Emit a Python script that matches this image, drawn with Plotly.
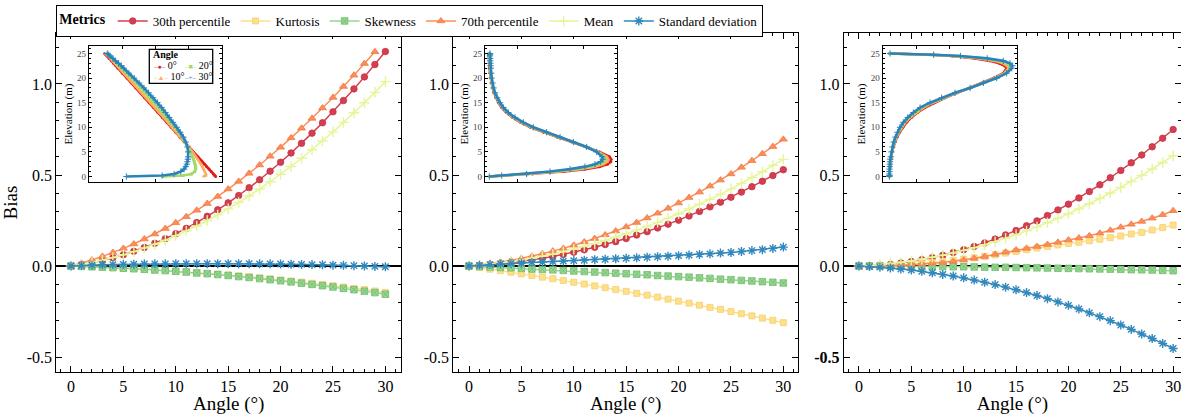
import plotly.graph_objects as go

W, H = 1181, 415
FONT = "Liberation Serif, Times New Roman, serif"

# ---------------- data: main panels ----------------
angle = list(range(31))
x_ticks = [0, 5, 10, 15, 20, 25, 30]
y_ticks = [-0.5, 0.0, 0.5, 1.0]
y_ticktext = ["-0.5", "0.0", "0.5", "1.0"]
y_ticktext_p3 = ["<b>-0.5</b>", "0.0", "0.5", "1.0"]

metric_names = ["30th percentile", "Kurtosis", "Skewness", "70th percentile", "Mean", "Standard deviation"]
metric_colors = ["#d53e4f", "#fee08b", "#99d594", "#fc8d59", "#e6f598", "#3288bd"]
metric_symbols = ["circle", "square", "square-x", "triangle-up", "cross-thin-open", "asterisk-open"]

p1_p30 = [0, 0.008, 0.018, 0.031, 0.045, 0.062, 0.081, 0.102, 0.125, 0.150, 0.178, 0.207, 0.239, 0.273, 0.309, 0.347, 0.387, 0.430, 0.474, 0.521, 0.570, 0.621, 0.674, 0.730, 0.787, 0.847, 0.909, 0.973, 1.039, 1.107, 1.178]
p1_kurt = [0, -0.002, -0.004, -0.006, -0.008, -0.011, -0.014, -0.017, -0.020, -0.024, -0.027, -0.031, -0.035, -0.040, -0.044, -0.049, -0.054, -0.059, -0.064, -0.070, -0.076, -0.082, -0.088, -0.094, -0.101, -0.108, -0.115, -0.122, -0.129, -0.137, -0.145]
p1_skew = [0, -0.002, -0.004, -0.006, -0.009, -0.012, -0.015, -0.018, -0.022, -0.025, -0.029, -0.033, -0.038, -0.042, -0.047, -0.052, -0.058, -0.063, -0.069, -0.075, -0.081, -0.087, -0.094, -0.101, -0.108, -0.115, -0.123, -0.130, -0.138, -0.146, -0.155]
p1_p70 = [0, 0.016, 0.033, 0.053, 0.074, 0.097, 0.121, 0.148, 0.176, 0.206, 0.238, 0.271, 0.306, 0.343, 0.382, 0.423, 0.465, 0.509, 0.555, 0.603, 0.652, 0.704, 0.757, 0.811, 0.868, 0.926, 0.986, 1.048, 1.112, 1.177, None]
p1_mean = [0, 0.009, 0.020, 0.032, 0.046, 0.062, 0.079, 0.099, 0.120, 0.142, 0.167, 0.193, 0.220, 0.250, 0.281, 0.314, 0.349, 0.385, 0.423, 0.463, 0.504, 0.547, 0.592, 0.639, 0.687, 0.737, 0.789, 0.842, 0.897, 0.954, 1.013]
p1_std = [0, 0.003, 0.005, 0.007, 0.008, 0.009, 0.010, 0.011, 0.012, 0.012, 0.013, 0.013, 0.013, 0.013, 0.013, 0.013, 0.013, 0.013, 0.012, 0.012, 0.011, 0.010, 0.009, 0.008, 0.007, 0.005, 0.004, 0.002, 0.000, -0.002, -0.004]

p2_p30 = [0, 0.003, 0.007, 0.012, 0.018, 0.025, 0.033, 0.043, 0.053, 0.064, 0.076, 0.089, 0.103, 0.118, 0.134, 0.151, 0.170, 0.189, 0.209, 0.230, 0.252, 0.275, 0.300, 0.325, 0.351, 0.378, 0.406, 0.436, 0.466, 0.497, 0.529]
p2_kurt = [0, -0.008, -0.017, -0.025, -0.034, -0.043, -0.052, -0.061, -0.070, -0.080, -0.089, -0.099, -0.109, -0.119, -0.129, -0.139, -0.150, -0.160, -0.171, -0.182, -0.193, -0.204, -0.215, -0.227, -0.238, -0.250, -0.262, -0.274, -0.286, -0.298, -0.311]
p2_skew = [0, -0.003, -0.005, -0.008, -0.010, -0.013, -0.016, -0.019, -0.021, -0.024, -0.027, -0.030, -0.033, -0.036, -0.039, -0.042, -0.045, -0.048, -0.052, -0.055, -0.058, -0.061, -0.065, -0.068, -0.072, -0.075, -0.079, -0.082, -0.086, -0.089, -0.093]
p2_p70 = [0, 0.006, 0.013, 0.022, 0.031, 0.042, 0.054, 0.067, 0.082, 0.097, 0.114, 0.132, 0.151, 0.171, 0.192, 0.215, 0.239, 0.264, 0.290, 0.317, 0.346, 0.376, 0.406, 0.439, 0.472, 0.506, 0.542, 0.579, 0.617, 0.656, 0.696]
p2_mean = [0, 0.005, 0.010, 0.017, 0.024, 0.033, 0.043, 0.054, 0.065, 0.078, 0.092, 0.107, 0.123, 0.140, 0.158, 0.177, 0.197, 0.218, 0.240, 0.263, 0.287, 0.313, 0.339, 0.366, 0.395, 0.424, 0.454, 0.486, 0.518, 0.552, 0.586]
p2_std = [0, 0.004, 0.008, 0.011, 0.014, 0.017, 0.020, 0.022, 0.025, 0.027, 0.030, 0.032, 0.035, 0.037, 0.040, 0.043, 0.045, 0.048, 0.051, 0.054, 0.057, 0.060, 0.064, 0.067, 0.071, 0.075, 0.080, 0.085, 0.090, 0.097, 0.104]

p3_p30 = [0, 0.002, 0.005, 0.010, 0.017, 0.025, 0.035, 0.046, 0.059, 0.074, 0.090, 0.108, 0.127, 0.148, 0.171, 0.195, 0.221, 0.248, 0.277, 0.308, 0.340, 0.374, 0.409, 0.446, 0.485, 0.525, 0.567, 0.610, 0.655, 0.702, 0.750]
p3_kurt = [0, 0.001, 0.002, 0.004, 0.007, 0.011, 0.015, 0.020, 0.025, 0.031, 0.038, 0.045, 0.053, 0.062, 0.071, 0.080, 0.090, 0.099, 0.108, 0.116, 0.124, 0.131, 0.139, 0.147, 0.156, 0.165, 0.176, 0.185, 0.198, 0.211, 0.225]
p3_skew = [0, 0, 0, -0.001, -0.001, -0.002, -0.002, -0.003, -0.003, -0.004, -0.004, -0.005, -0.006, -0.007, -0.007, -0.008, -0.009, -0.010, -0.011, -0.012, -0.013, -0.014, -0.015, -0.016, -0.017, -0.018, -0.020, -0.021, -0.022, -0.024, -0.026]
p3_p70 = [0, 0.000, 0.001, 0.002, 0.004, 0.007, 0.010, 0.015, 0.020, 0.026, 0.033, 0.042, 0.052, 0.064, 0.076, 0.088, 0.097, 0.107, 0.118, 0.130, 0.143, 0.154, 0.166, 0.180, 0.196, 0.213, 0.229, 0.245, 0.263, 0.282, 0.304]
p3_mean = [0, 0.003, 0.008, 0.013, 0.020, 0.028, 0.037, 0.048, 0.059, 0.072, 0.086, 0.101, 0.117, 0.134, 0.152, 0.172, 0.193, 0.215, 0.238, 0.262, 0.287, 0.314, 0.342, 0.371, 0.401, 0.432, 0.464, 0.498, 0.533, 0.569, 0.606]
p3_std = [0, -0.003, -0.006, -0.011, -0.016, -0.022, -0.029, -0.037, -0.046, -0.055, -0.065, -0.077, -0.089, -0.102, -0.116, -0.130, -0.146, -0.162, -0.179, -0.197, -0.216, -0.236, -0.257, -0.278, -0.300, -0.324, -0.348, -0.373, -0.398, -0.425, -0.453]

# ---------------- data: insets (profile, relative units vs elevation) ----------------
elevation = [0, 0.2, 0.5, 1, 1.5, 2, 2.5, 3, 3.5, 4, 5, 6, 7, 8, 9, 10, 11, 12, 13, 14, 15, 16, 17, 18, 19, 20, 21, 22, 22.5, 23, 23.5, 24, 24.5, 24.75, 25]
inset_angles = ["0°", "10°", "20°", "30°"]
inset_colors = ["#e31a1c", "#fdae61", "#a6d96a", "#2b83ba"]
inset_symbols = ["circle", "triangle-up", "square", "cross-thin-open"]

in1_a0 = [0.952, 0.945, 0.935, 0.919, 0.902, 0.885, 0.869, 0.852, 0.835, 0.819, 0.785, 0.752, 0.718, 0.685, 0.652, 0.618, 0.585, 0.552, 0.518, 0.485, 0.452, 0.418, 0.385, 0.352, 0.318, 0.285, 0.251, 0.218, 0.201, 0.185, 0.168, 0.151, 0.135, 0.126, 0.118]
in1_a10 = [0.86, 0.879, 0.879, 0.871, 0.862, 0.852, 0.842, 0.83, 0.818, 0.805, 0.782, 0.752, 0.72, 0.69, 0.657, 0.625, 0.593, 0.561, 0.528, 0.496, 0.464, 0.431, 0.398, 0.365, 0.331, 0.298, 0.264, 0.23, 0.213, 0.196, 0.179, 0.161, 0.143, 0.133, 0.124]
in1_a20 = [0.556, 0.707, 0.77, 0.795, 0.802, 0.802, 0.797, 0.792, 0.785, 0.777, 0.762, 0.744, 0.724, 0.702, 0.674, 0.645, 0.612, 0.582, 0.551, 0.52, 0.49, 0.457, 0.423, 0.389, 0.354, 0.318, 0.282, 0.247, 0.229, 0.211, 0.192, 0.173, 0.154, 0.142, 0.13]
in1_a30 = [0.281, 0.55, 0.64, 0.69, 0.715, 0.728, 0.735, 0.74, 0.743, 0.745, 0.745, 0.74, 0.727, 0.71, 0.686, 0.66, 0.632, 0.604, 0.575, 0.546, 0.515, 0.482, 0.448, 0.413, 0.377, 0.34, 0.30, 0.262, 0.242, 0.222, 0.2, 0.18, 0.158, 0.148, 0.138]

in2_a0 = [0.033, 0.15, 0.36, 0.6, 0.76, 0.87, 0.93, 0.955, 0.957, 0.945, 0.87, 0.77, 0.66, 0.55, 0.445, 0.345, 0.27, 0.21, 0.162, 0.127, 0.102, 0.083, 0.069, 0.058, 0.05, 0.044, 0.039, 0.035, 0.034, 0.033, 0.032, 0.031, 0.03, 0.03, 0.03]
in2_a10 = [0.033, 0.142, 0.345, 0.565, 0.722, 0.833, 0.898, 0.929, 0.936, 0.926, 0.863, 0.771, 0.664, 0.557, 0.453, 0.352, 0.277, 0.216, 0.167, 0.131, 0.106, 0.086, 0.071, 0.06, 0.052, 0.046, 0.042, 0.038, 0.037, 0.036, 0.035, 0.034, 0.033, 0.033, 0.033]
in2_a20 = [0.033, 0.135, 0.33, 0.53, 0.685, 0.796, 0.866, 0.903, 0.915, 0.908, 0.855, 0.771, 0.668, 0.563, 0.46, 0.36, 0.284, 0.222, 0.172, 0.136, 0.11, 0.089, 0.074, 0.063, 0.055, 0.049, 0.045, 0.041, 0.04, 0.039, 0.038, 0.037, 0.036, 0.036, 0.036]
in2_a30 = [0.033, 0.127, 0.316, 0.494, 0.646, 0.759, 0.835, 0.878, 0.894, 0.889, 0.848, 0.772, 0.671, 0.57, 0.468, 0.367, 0.291, 0.228, 0.177, 0.14, 0.114, 0.092, 0.076, 0.065, 0.057, 0.051, 0.047, 0.044, 0.042, 0.041, 0.04, 0.039, 0.038, 0.038, 0.038]

in3_a0 = [0.05, 0.05, 0.05, 0.051, 0.052, 0.054, 0.056, 0.058, 0.061, 0.064, 0.07, 0.079, 0.091, 0.107, 0.126, 0.15, 0.178, 0.214, 0.26, 0.315, 0.385, 0.465, 0.555, 0.65, 0.74, 0.83, 0.9, 0.925, 0.91, 0.87, 0.8, 0.69, 0.52, 0.35, 0.05]
in3_a10 = [0.05, 0.05, 0.05, 0.051, 0.052, 0.053, 0.055, 0.057, 0.059, 0.062, 0.069, 0.077, 0.088, 0.103, 0.121, 0.143, 0.17, 0.205, 0.25, 0.303, 0.374, 0.456, 0.55, 0.65, 0.744, 0.838, 0.908, 0.938, 0.929, 0.897, 0.833, 0.72, 0.54, 0.36, 0.052]
in3_a20 = [0.05, 0.05, 0.05, 0.05, 0.051, 0.052, 0.054, 0.056, 0.058, 0.061, 0.067, 0.074, 0.085, 0.099, 0.116, 0.136, 0.162, 0.196, 0.24, 0.291, 0.364, 0.448, 0.545, 0.651, 0.748, 0.845, 0.917, 0.951, 0.949, 0.924, 0.867, 0.75, 0.56, 0.37, 0.054]
in3_a30 = [0.05, 0.05, 0.05, 0.05, 0.051, 0.052, 0.053, 0.055, 0.057, 0.06, 0.065, 0.072, 0.082, 0.095, 0.11, 0.129, 0.154, 0.187, 0.229, 0.279, 0.353, 0.44, 0.54, 0.652, 0.751, 0.851, 0.925, 0.963, 0.968, 0.95, 0.9, 0.78, 0.58, 0.38, 0.055]

panels = [
    [p1_p30, p1_kurt, p1_skew, p1_p70, p1_mean, p1_std],
    [p2_p30, p2_kurt, p2_skew, p2_p70, p2_mean, p2_std],
    [p3_p30, p3_kurt, p3_skew, p3_p70, p3_mean, p3_std],
]
insets = [
    [in1_a0, in1_a10, in1_a20, in1_a30],
    [in2_a0, in2_a10, in2_a20, in2_a30],
    [in3_a0, in3_a10, in3_a20, in3_a30],
]

# ---------------- layout geometry (pixels -> paper) ----------------
def px(v):
    return v / W

def py(v):
    return 1 - v / H

main_dom_x = [[px(56.3), px(401.1)], [px(453.3), px(798.0)], [px(843.8), 1.0]]
main_rng_x = [[-1.4, 31.5], [-1.5, 31.4], [-1.45, 30.75]]
main_dom_y = [py(372), py(33)]
main_rng_y = [-0.582, 1.28]

inset_dom_x = [[px(89), px(222)], [px(485), px(616.7)], [px(882.7), px(1016.7)]]
inset_dom_y = [py(182), py(46)]
inset_rng_y = [-1.12, 26.52]

fig = go.Figure()

marker_line_colors = ["#c73346", "#f5cf6e", "#6fbe6a", "#f07a45", "#d8ea80", "#2f7fb3"]
marker_sizes = [6.5, 6, 6.5, 7, 7.5, 7.5]

for p, series in enumerate(panels):
    xa = "x" if p == 0 else f"x{p+1}"
    ya = "y" if p == 0 else f"y{p+1}"
    for k, vals in enumerate(series):
        sym = metric_symbols[k]
        open_sym = sym.endswith("-open")
        fig.add_trace(go.Scatter(
            x=angle, y=vals, mode="lines+markers", name=metric_names[k],
            xaxis=xa, yaxis=ya, legendgroup=metric_names[k], showlegend=(p == 0),
            line=dict(color=metric_colors[k], width=1.5),
            marker=dict(symbol=sym, size=marker_sizes[k], color=metric_colors[k],
                        line=dict(color=(metric_colors[k] if open_sym else marker_line_colors[k]),
                                  width=(1.4 if open_sym else 0.8))),
            connectgaps=False,
        ))

for i, profs in enumerate(insets):
    xa = f"x{i+4}"
    ya = f"y{i+4}"
    for k, vals in enumerate(profs):
        sym = inset_symbols[k]
        open_sym = sym.endswith("-open")
        fig.add_trace(go.Scatter(
            x=vals, y=elevation, mode="lines+markers", name=inset_angles[k],
            xaxis=xa, yaxis=ya, showlegend=False,
            line=dict(color=inset_colors[k], width=2.6),
            marker=dict(symbol=sym, size=3 if not open_sym else 4.5, color=inset_colors[k],
                        line=dict(color=inset_colors[k], width=1 if open_sym else 0)),
        ))

axis_common = dict(showline=True, linecolor="black", linewidth=1, mirror="allticks",
                   ticks="inside", tickcolor="black", ticklen=6, tickwidth=1,
                   showgrid=False, zeroline=False)

layout = dict(
    width=W, height=H, margin=dict(l=0, r=0, t=0, b=0),
    paper_bgcolor="white", plot_bgcolor="white",
    font=dict(family=FONT, size=15, color="black"),
    legend=dict(orientation="h", x=px(56.3), y=py(5), xanchor="left", yanchor="top",
                bordercolor="black", borderwidth=1, bgcolor="white",
                font=dict(family=FONT, size=13, color="black"),
                title=dict(text="<b>Metrics</b>", side="left", font=dict(family=FONT, size=14)),
                itemwidth=30, tracegroupgap=0),
    shapes=[], annotations=[],
)

for p in range(3):
    xk = "xaxis" if p == 0 else f"xaxis{p+1}"
    yk = "yaxis" if p == 0 else f"yaxis{p+1}"
    ya = "y" if p == 0 else f"y{p+1}"
    xa = "x" if p == 0 else f"x{p+1}"
    layout[xk] = dict(axis_common, domain=main_dom_x[p], range=main_rng_x[p], anchor=ya,
                      tickmode="array", tickvals=x_ticks, ticklabeloverflow="allow",
                      tickfont=dict(family=FONT, size=16),
                      minor=dict(dtick=1, tick0=0, ticks="inside", ticklen=3, tickcolor="black"),
                      title=dict(text="Angle (°)", font=dict(family=FONT, size=19), standoff=1))
    layout[yk] = dict(axis_common, domain=main_dom_y, range=main_rng_y, anchor=xa,
                      tickmode="array", tickvals=y_ticks,
                      ticktext=(y_ticktext_p3 if p == 2 else y_ticktext),
                      tickfont=dict(family=FONT, size=16),
                      zeroline=True, zerolinecolor="black", zerolinewidth=1.5,
                      minor=dict(dtick=0.1, tick0=0, ticks="inside", ticklen=3, tickcolor="black"))
layout["yaxis"]["title"] = dict(text="Bias", font=dict(family=FONT, size=19), standoff=4)

for i in range(3):
    xk = f"xaxis{i+4}"
    yk = f"yaxis{i+4}"
    layout[xk] = dict(axis_common, domain=inset_dom_x[i], range=[0, 1], anchor=f"y{i+4}",
                      showticklabels=False, dtick=0.25, ticklen=3, linewidth=1.3)
    layout[yk] = dict(axis_common, domain=inset_dom_y, range=inset_rng_y, anchor=f"x{i+4}",
                      tickmode="array", tickvals=[0, 5, 10, 15, 20, 25], ticklen=3, linewidth=1.3,
                      tickfont=dict(family=FONT, size=9, color="#444"),
                      minor=dict(dtick=1, tick0=0, ticks="inside", ticklen=2, tickcolor="black"),
                      title=dict(text="Elevation (m)", font=dict(family=FONT, size=11), standoff=2))

# inset legend (Angle) drawn as a boxed text block
layout["shapes"].append(dict(type="rect", xref="paper", yref="paper",
                             x0=px(149.3), x1=px(212.7), y0=py(83.3), y1=py(49.3),
                             line=dict(color="black", width=1.3), fillcolor="white", layer="above"))
layout["annotations"].append(dict(xref="paper", yref="paper", x=px(150.5), y=py(54.5),
                                  xanchor="left", yanchor="middle", showarrow=False,
                                  text="<b>Angle</b>", font=dict(family=FONT, size=10)))
leg_pos = [(151, 65.5), (151, 77), (181.5, 65.5), (181.5, 77)]
leg_glyph = ["●", "▲", "■", "+"]
for k in range(4):
    x0, y0 = leg_pos[k]
    txt = (f"<span style='color:{inset_colors[k]};font-size:7px'>–{leg_glyph[k]}–</span>"
           f" {inset_angles[k]}")
    layout["annotations"].append(dict(xref="paper", yref="paper", x=px(x0), y=py(y0),
                                      xanchor="left", yanchor="middle", showarrow=False,
                                      text=txt, font=dict(family=FONT, size=10)))

fig.update_layout(**layout)

fig.write_html("out.html", config={"displayModeBar": False},
               post_script="document.body.style.margin='0';")
